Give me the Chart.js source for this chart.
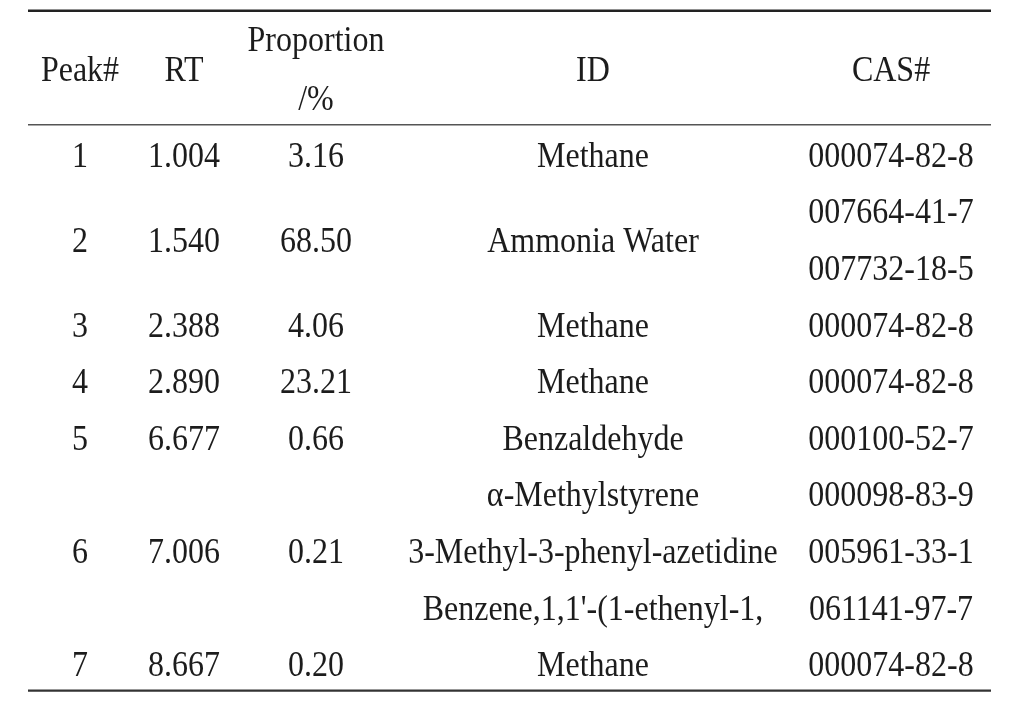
<!DOCTYPE html>
<html>
<head>
<meta charset="utf-8">
<title>Peak table</title>
<script src="https://cdn.jsdelivr.net/npm/chart.js"></script>
<style>
    html, body { margin: 0; padding: 0; background: #fff; }
    #wrap { width: 1010px; height: 707px; position: relative; }
</style>
</head>
<body>
<div id="wrap"><canvas id="tableChart"></canvas></div>
<script>
// Datos de la tabla
const headers = ['Peak#', 'RT', 'Proportion\n/%', 'ID', 'CAS#'];
const peaks = [1, 2, 3, 4, 5, 6, 7];
const retentionTimes = ['1.004', '1.540', '2.388', '2.890', '6.677', '7.006', '8.667'];
const proportions = [3.16, 68.50, 4.06, 23.21, 0.66, 0.21, 0.20];
const compoundIds = [
    ['Methane'],
    ['Ammonia Water'],
    ['Methane'],
    ['Methane'],
    ['Benzaldehyde'],
    ['\u03B1-Methylstyrene', '3-Methyl-3-phenyl-azetidine', "Benzene,1,1'-(1-ethenyl-1,"],
    ['Methane']
];
const casNumbers = [
    ['000074-82-8'],
    ['007664-41-7', '007732-18-5'],
    ['000074-82-8'],
    ['000074-82-8'],
    ['000100-52-7'],
    ['000098-83-9', '005961-33-1', '061141-97-7'],
    ['000074-82-8']
];

// Layout (columnas en unidades del eje x, filas en unidades del eje y)
const colCenters = [80, 184, 316, 593, 891];
const ruleStart = 28, ruleEnd = 991;
const FONT_PX = 32;
const STRETCH_Y = 1.1;   // el texto original esta algo estirado en vertical
const FONT = FONT_PX + 'px "Liberation Serif", "Times New Roman", serif';

// Construir celdas
const cells = [];
headers.forEach((h, c) => {
    const lines = h.split('\n');
    if (lines.length === 1) {
        cells.push({ x: colCenters[c], y: 0.48, text: h });
    } else {
        cells.push({ x: colCenters[c], y: -0.05, text: lines[0] });
        cells.push({ x: colCenters[c], y: 1.0, text: lines[1] });
    }
});

let slot = 2;
peaks.forEach((p, i) => {
    const span = Math.max(compoundIds[i].length, casNumbers[i].length);
    const mid = slot + (span - 1) / 2;
    cells.push({ x: colCenters[0], y: mid, text: String(p) });
    cells.push({ x: colCenters[1], y: mid, text: retentionTimes[i] });
    cells.push({ x: colCenters[2], y: mid, text: proportions[i].toFixed(2) });
    const ids = compoundIds[i];
    ids.forEach((id, k) => {
        const y = ids.length === span ? slot + k : mid;
        cells.push({ x: colCenters[3], y: y, text: id });
    });
    const cas = casNumbers[i];
    cas.forEach((n, k) => {
        const y = cas.length === span ? slot + k : mid;
        cells.push({ x: colCenters[4], y: y, text: n });
    });
    slot += span;
});

const lastSlot = slot - 1;
const topRule = -0.55, headRule = 1.46, bottomRule = lastSlot + 0.46;

function rule(y, width, color) {
    return {
        type: 'line',
        data: [{ x: ruleStart, y: y }, { x: ruleEnd, y: y }],
        borderColor: color,
        borderWidth: width,
        pointRadius: 0,
        showLine: true
    };
}

// Plugin que escribe el texto de cada celda en la posicion de su punto
const cellTextPlugin = {
    id: 'cellText',
    afterDatasetsDraw(chart) {
        const meta = chart.getDatasetMeta(0);
        const ctx = chart.ctx;
        const capHalf = 0.331 * FONT_PX * STRETCH_Y;
        ctx.save();
        ctx.font = FONT;
        ctx.fillStyle = '#1c1c1c';
        ctx.textAlign = 'center';
        ctx.textBaseline = 'alphabetic';
        meta.data.forEach((pt, i) => {
            ctx.save();
            ctx.translate(pt.x, pt.y + capHalf);
            ctx.scale(1, STRETCH_Y);
            ctx.fillText(cells[i].text, 0, 0);
            ctx.restore();
        });
        ctx.restore();
    }
};

new Chart(document.getElementById('tableChart'), {
    type: 'scatter',
    data: {
        datasets: [
            {
                label: 'cells',
                data: cells.map(c => ({ x: c.x, y: c.y })),
                pointRadius: 0,
                pointHoverRadius: 0
            },
            rule(topRule, 2.5, '#222'),
            rule(headRule, 1.5, '#555'),
            rule(bottomRule, 2.2, '#333')
        ]
    },
    options: {
        responsive: true,
        maintainAspectRatio: false,
        animation: false,
        events: [],
        layout: { padding: 0 },
        scales: {
            x: { type: 'linear', min: 0, max: 1010, display: false },
            y: { type: 'linear', reverse: true, min: -0.742, max: 11.749, display: false }
        },
        plugins: {
            legend: { display: false },
            tooltip: { enabled: false }
        }
    },
    plugins: [cellTextPlugin]
});
</script>
</body>
</html>
